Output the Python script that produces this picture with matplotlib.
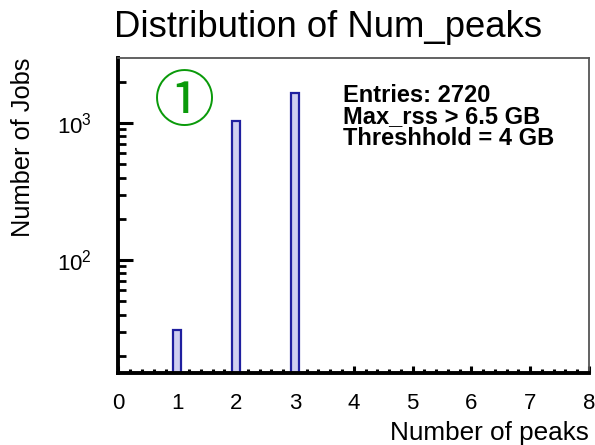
import matplotlib
matplotlib.use("Agg")
import matplotlib.pyplot as plt
from matplotlib.ticker import MultipleLocator, LogLocator, NullFormatter

plt.rcParams['font.family'] = ['Liberation Sans', 'DejaVu Sans']
plt.rcParams['mathtext.default'] = 'regular'

# Data
num_peaks = [1, 2, 3]
num_jobs = [30, 1040, 1650]
x_ticks = [0, 1, 2, 3, 4, 5, 6, 7, 8]
title = "Distribution of Num_peaks"
stats_lines = ["Entries: 2720", "Max_rss > 6.5 GB", "Threshhold = 4 GB"]

W, H = 595, 445
fig = plt.figure(figsize=(W / 100, H / 100), dpi=100)
L, R, T, B = 118.5, 589, 58, 373
ax = fig.add_axes([L / W, 1 - B / H, (R - L) / W, (B - T) / H])

ax.bar(num_peaks, num_jobs, width=0.13, facecolor='#cfcff0',
       edgecolor='#1f1f9f', linewidth=1.6, bottom=1, zorder=2)
ax.set_yscale('log')
ax.set_ylim(15, 2980)
ax.set_xlim(0, 8)

ax.set_xticks(x_ticks)
ax.xaxis.set_minor_locator(MultipleLocator(0.2))
ax.yaxis.set_major_locator(LogLocator(base=10, numticks=10))
ax.yaxis.set_minor_locator(LogLocator(base=10, subs=range(2, 10), numticks=20))
ax.yaxis.set_minor_formatter(NullFormatter())

for s in ['left', 'bottom']:
    ax.spines[s].set_linewidth(2.8)
    ax.spines[s].set_color('black')
for s in ['top', 'right']:
    ax.spines[s].set_linewidth(1.3)
    ax.spines[s].set_color('#555555')

ax.tick_params(axis='x', which='major', direction='in', length=5, width=2.2,
               labelsize=16, pad=14.5, top=False)
ax.tick_params(axis='x', which='minor', direction='in', length=3, width=2.2, top=False)
ax.tick_params(axis='y', which='major', direction='in', length=11, width=2.2,
               labelsize=16, pad=44, right=False)
ax.tick_params(axis='y', which='minor', direction='in', length=6, width=2.0, right=False)
for lab in ax.get_yticklabels():
    lab.set_horizontalalignment('left')

fig.text(328 / W, 1 - 37 / H, title, ha='center', va='baseline', fontsize=26.3)
fig.text(589 / W, 1 - 440 / H, "Number of peaks", ha='right', va='baseline',
         fontsize=18.8)
fig.text(23 / W, 1 - 58 / H, "Number of Jobs", ha='center', va='top',
         rotation=90, fontsize=18.3)

for line, yb in zip(stats_lines, [102, 123, 145]):
    fig.text(343 / W, 1 - yb / H, line, ha='left', va='baseline',
             fontsize=17, fontweight='bold')

fig.text(185 / W, 1 - 104 / H, "\u2460", ha='center', va='center', fontsize=44,
         color='#0a9a0a', family=['Noto Sans CJK JP', 'DejaVu Sans'])

fig.savefig("out.png", dpi=100)
